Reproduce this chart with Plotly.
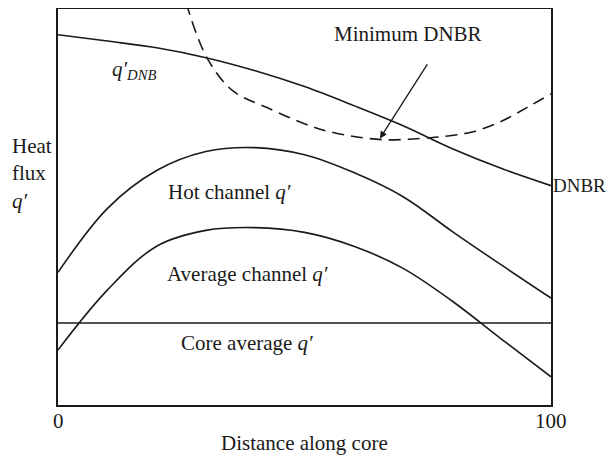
import plotly.graph_objects as go

# curves (x: % along core, y: relative heat flux)
dnb_x = [0, 10, 20, 30, 40, 50, 60, 70, 80, 90, 100]
dnb_y = [93.5, 91.9, 90.2, 87.7, 84.4, 80.4, 75.6, 70.5, 64.7, 59.7, 55.4]

dnbr_x = [26.0, 30.2, 35.5, 42.4, 51.1, 55.8, 65.7, 75.5, 79.5, 84.2, 89.7, 95.1, 100]
dnbr_y = [101.5, 87.7, 79.3, 75.1, 70.5, 68.8, 67.0, 67.5, 68.0, 69.0, 71.5, 75.1, 78.6]

hot_x = [0, 10, 20, 30, 40, 50, 60, 70, 80, 90, 100]
hot_y = [33.5, 49.6, 59.2, 64.0, 65.0, 63.2, 58.7, 52.6, 43.8, 35.3, 27.0]

avg_x = [0, 10, 20, 30, 40, 50, 60, 70, 80, 90, 100]
avg_y = [13.9, 29.0, 40.1, 44.1, 44.8, 43.6, 40.1, 34.5, 26.2, 16.6, 7.1]

core_x = [0, 100]
core_y = [20.7, 20.7]

x_ticks = [0, 100]
x_labels = ["0", "100"]

FONT = "Liberation Serif"
BLACK = "#1a1a1a"

fig = go.Figure()


def curve(x, y, dash="solid"):
    fig.add_trace(go.Scatter(
        x=x, y=y, mode="lines",
        line=dict(color=BLACK, width=1.6, dash=dash, shape="spline", smoothing=1.0),
        hoverinfo="skip", showlegend=False))


curve(dnb_x, dnb_y)
curve(dnbr_x, dnbr_y, dash="12px,7px")
curve(hot_x, hot_y)
curve(avg_x, avg_y)
curve(core_x, core_y)

txt = dict(size=21, color=BLACK, family=FONT)
notes = [
    dict(x=10.5, y=84.5, text="<i>q′</i><sub><i>DNB</i></sub>", xanchor="left"),
    dict(x=71.0, y=93.7, text="Minimum DNBR"),
    dict(x=34.7, y=53.7, text="Hot channel <i>q′</i>"),
    dict(x=38.5, y=33.2, text="Average channel <i>q′</i>"),
    dict(x=38.3, y=15.6, text="Core average <i>q′</i>"),
]
for n in notes:
    fig.add_annotation(showarrow=False, font=txt, yanchor="middle", **n)

# right-edge label, a touch smaller so it fits inside the page
fig.add_annotation(x=100, y=55.4, text="DNBR", xanchor="left", yanchor="middle",
                   showarrow=False, font=dict(size=19, color=BLACK, family=FONT))

# arrow pointing at the minimum of the DNBR curve
fig.add_annotation(x=65.3, y=67.3, ax=75.1, ay=86.4, axref="x", ayref="y",
                   text="", showarrow=True, arrowhead=2, arrowsize=1.1,
                   arrowwidth=1.3, arrowcolor=BLACK)

# x tick labels just under the frame
for v, lab in zip(x_ticks, x_labels):
    fig.add_annotation(x=v, xref="x", y=-0.04, yref="paper", text=lab,
                       showarrow=False, xanchor="center", yanchor="middle", font=txt)

fig.add_annotation(xref="paper", yref="paper", x=-0.097, y=0.585,
                   text="Heat<br>flux<br><i>q′</i>", showarrow=False,
                   xanchor="left", yanchor="middle", align="left", font=txt)
fig.add_annotation(xref="paper", yref="paper", x=0.499, y=-0.0957,
                   text="Distance along core", showarrow=False,
                   xanchor="center", yanchor="middle", font=txt)

fig.update_xaxes(range=[0, 100], showticklabels=False, automargin=False,
                 showgrid=False, zeroline=False, ticks="",
                 showline=True, linecolor=BLACK, linewidth=2, mirror=True)
fig.update_yaxes(range=[0, 100], showticklabels=False, automargin=False,
                 showgrid=False, zeroline=False, ticks="",
                 showline=True, linecolor=BLACK, linewidth=2, mirror=True)

# page body has an 8px margin, so the figure is shifted by that much
fig.update_layout(width=606, height=450,
                  margin=dict(l=50, r=63, t=1, b=53),
                  plot_bgcolor="white", paper_bgcolor="white",
                  font=txt)

fig.write_html("out.html")
